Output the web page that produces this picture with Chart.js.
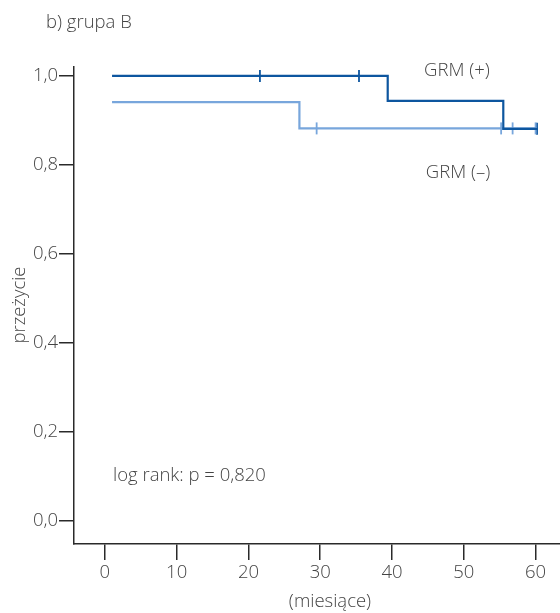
<!DOCTYPE html>
<html>
<head>
<meta charset="utf-8">
<script src="https://cdn.jsdelivr.net/npm/chart.js@4.4.1/dist/chart.umd.min.js"></script>
<style>
html,body{margin:0;padding:0;background:#fff;}
#wrap{width:560px;height:613px;position:relative;}
</style>
</head>
<body>
<div id="wrap"><canvas id="c" width="560" height="613"></canvas></div>
<script>
// Kaplan-Meier step points (time in months, survival)
const grmPlusTimes = [1, 39.4, 55.5, 60.3];
const grmPlusSurv  = [1.0, 0.944, 0.881, 0.881];
const grmPlusCensorTimes = [21.6, 35.4, 60.2];
const grmPlusCensorSurv  = [1.0, 1.0, 0.881];

const grmMinusTimes = [1, 27.1, 60.2];
const grmMinusSurv  = [0.941, 0.882, 0.882];
const grmMinusCensorTimes = [29.5, 55.2, 56.8, 60.0];
const grmMinusCensorSurv  = [0.882, 0.882, 0.882, 0.882];

const xTicks = [0, 10, 20, 30, 40, 50, 60];
const yTicks = [0, 0.2, 0.4, 0.6, 0.8, 1.0];

const darkBlue = '#0d569f';
const lightBlue = '#78a6dc';
const textColor = '#444444';
const FONT = "'Open Sans', 'Noto Sans', sans-serif";
const FSIZE = 18.5;

const pts = (xs, ys) => xs.map((x, i) => ({x: x, y: ys[i]}));

const textPlugin = {
  id: 'texts',
  afterDraw(chart) {
    const ctx = chart.ctx;
    ctx.save();
    ctx.fillStyle = textColor;
    ctx.font = "300 " + FSIZE + "px " + FONT;
    ctx.textBaseline = 'middle';
    ctx.textAlign = 'left';
    ctx.fillText('b) grupa B', 46, 23);
    ctx.fillText('log rank: p = 0,820', 113, 476);
    ctx.textAlign = 'center';
    ctx.fillText('GRM (+)', 457, 71);
    ctx.fillText('GRM (–)', 458, 173);
    ctx.fillText('(miesiące)', 330, 602);
    ctx.translate(20, 305);
    ctx.rotate(-Math.PI / 2);
    ctx.fillText('przeżycie', 0, 0);
    ctx.restore();
  }
};

new Chart(document.getElementById('c'), {
  type: 'scatter',
  data: {
    datasets: [
      { data: pts(grmPlusTimes, grmPlusSurv), showLine: true, stepped: 'before',
        borderColor: darkBlue, borderWidth: 2.2, pointRadius: 0, fill: false },
      { data: pts(grmMinusTimes, grmMinusSurv), showLine: true, stepped: 'before',
        borderColor: lightBlue, borderWidth: 2.2, pointRadius: 0, fill: false },
      { data: pts(grmMinusCensorTimes, grmMinusCensorSurv), showLine: false, pointStyle: 'line', rotation: 90, pointRadius: 6,
        borderColor: lightBlue, pointBorderColor: lightBlue, pointBorderWidth: 1.8 },
      { data: pts(grmPlusCensorTimes, grmPlusCensorSurv), showLine: false, pointStyle: 'line', rotation: 90, pointRadius: 6,
        borderColor: darkBlue, pointBorderColor: darkBlue, pointBorderWidth: 1.8 }
    ]
  },
  options: {
    responsive: false,
    animation: false,
    events: [],
    layout: { autoPadding: false, padding: { left: 0, right: 0, top: 67, bottom: 0 } },
    plugins: { legend: { display: false }, tooltip: { enabled: false }, title: { display: false } },
    scales: {
      x: {
        type: 'linear', min: -4.3, max: 63.4,
        afterBuildTicks: s => { s.ticks = xTicks.map(v => ({value: v})); },
        afterFit: s => { s.height = 69; s.paddingLeft = 0; s.paddingRight = 0; },
        border: { display: true, color: '#2a2a2a', width: 1.5 },
        grid: { display: true, drawOnChartArea: false, drawTicks: true, tickLength: 16, color: '#2a2a2a', lineWidth: 1.5 },
        ticks: { color: textColor, font: { family: FONT, size: FSIZE, weight: 300 }, padding: 2, maxRotation: 0 }
      },
      y: {
        type: 'linear', min: -0.052, max: 1.02,
        afterBuildTicks: s => { s.ticks = yTicks.map(v => ({value: v})); },
        afterFit: s => { s.width = 74; s.paddingTop = 0; s.paddingBottom = 0; },
        border: { display: true, color: '#2a2a2a', width: 1.5 },
        grid: { display: true, drawOnChartArea: false, drawTicks: true, tickLength: 15, color: '#2a2a2a', lineWidth: 1.5 },
        ticks: { color: textColor, font: { family: FONT, size: FSIZE, weight: 300 }, padding: 1,
          callback: v => v.toFixed(1).replace('.', ',') }
      }
    }
  },
  plugins: [textPlugin]
});
</script>
</body>
</html>
